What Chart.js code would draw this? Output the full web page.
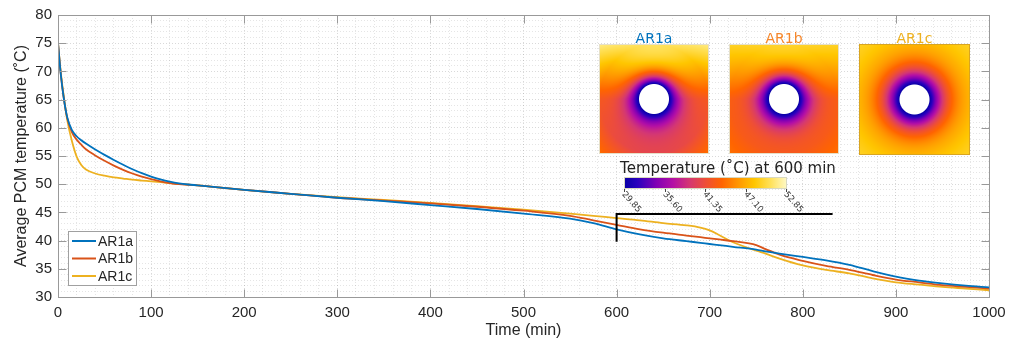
<!DOCTYPE html>
<html>
<head>
<meta charset="utf-8">
<script src="https://cdn.jsdelivr.net/npm/chart.js@4.4.0/dist/chart.umd.min.js"></script>
<style>
  html, body { margin: 0; padding: 0; background: #fff; }
  #wrap { width: 1018px; height: 343px; }
</style>
</head>
<body>
<div id="wrap"><canvas id="pcmChart" width="1018" height="343"></canvas></div>
<script>
// data (time in min, temperature in degC)
const timeMin = [0, 3, 6, 10, 15, 20, 25, 30, 40, 50, 60, 70, 80, 90, 100, 110, 120, 130, 140, 150,
  175, 200, 250, 300, 350, 400, 450, 500, 550, 575, 600, 625, 650, 675, 690, 700, 710, 725, 750, 760,
  775, 800, 825, 850, 875, 900, 925, 950, 975, 1000];
const ar1a = [75, 69.5, 65.5, 61.8, 59.6, 58.5, 57.8, 57.2, 56.15, 55.2, 54.3, 53.45, 52.65, 51.95, 51.35, 50.85, 50.45, 50.15, 49.95, 49.8,
  49.4, 49.0, 48.3, 47.6, 47.0, 46.3, 45.6, 44.8, 43.9, 43.1, 42.0, 41.1, 40.4, 39.9, 39.6, 39.4, 39.2, 38.9, 38.4, 38.1,
  37.7, 37.1, 36.5, 35.7, 34.6, 33.6, 32.9, 32.4, 32.0, 31.7];
const ar1b = [75, 69.5, 65.5, 61.7, 59.2, 57.9, 57.0, 56.2, 55.1, 54.15, 53.3, 52.55, 51.9, 51.35, 50.9, 50.5, 50.2, 50.0, 49.9, 49.8,
  49.4, 49.0, 48.3, 47.6, 47.1, 46.6, 46.0, 45.3, 44.4, 43.6, 42.8, 42.0, 41.4, 40.9, 40.6, 40.4, 40.2, 39.9, 39.2, 38.5,
  37.5, 36.4, 35.5, 34.8, 33.9, 33.1, 32.6, 32.1, 31.8, 31.5];
const ar1c = [75, 69.8, 65.8, 61.3, 57.6, 54.9, 53.4, 52.6, 51.9, 51.5, 51.2, 51.0, 50.8, 50.65, 50.5, 50.35, 50.2, 50.05, 49.92, 49.8,
  49.4, 49.0, 48.3, 47.7, 47.2, 46.7, 46.1, 45.5, 44.8, 44.4, 44.0, 43.6, 43.1, 42.7, 42.3, 41.8, 41.0, 39.7, 38.2, 37.7,
  36.8, 35.6, 34.8, 34.2, 33.3, 32.6, 32.2, 31.8, 31.5, 31.2];

const seriesNames = ['AR1a', 'AR1b', 'AR1c'];
const seriesColors = ['#0072BD', '#D95319', '#EDB120'];
const insetTitleColors = ['#0072BD', '#F5862A', '#EDB120'];

const xTickLabels = [0, 100, 200, 300, 400, 500, 600, 700, 800, 900, 1000];
const yTickLabels = [30, 35, 40, 45, 50, 55, 60, 65, 70, 75, 80];
const colorbarTicks = ['29.85', '35.60', '41.35', '47.10', '52.85'];

// bracket that links the 600 min snapshot to the insets
const markerTime = 600;
const markerEnd = 832;
const markerTop = 44.7;
const markerBottom = 39.8;

// colormap of the temperature fields (29.85 .. 52.85 degC)
const cmapStops = [
  [0.00, [8, 0, 165]],
  [0.08, [40, 0, 190]],
  [0.20, [130, 0, 180]],
  [0.30, [180, 15, 165]],
  [0.40, [212, 55, 115]],
  [0.50, [238, 78, 55]],
  [0.60, [255, 100, 0]],
  [0.70, [255, 150, 0]],
  [0.80, [255, 198, 0]],
  [0.90, [255, 225, 90]],
  [1.00, [255, 250, 200]]
];

function cmap(u) {
  u = Math.max(0, Math.min(1, u));
  for (let k = 1; k < cmapStops.length; k++) {
    if (u <= cmapStops[k][0]) {
      const a = cmapStops[k - 1], b = cmapStops[k];
      const f = (u - a[0]) / (b[0] - a[0]);
      return a[1].map((c, i) => Math.round(c + (b[1][i] - c) * f));
    }
  }
  return cmapStops[cmapStops.length - 1][1];
}

// inset snapshots: normalised far-field level above / at the sides / below the tube
const insets = [
  { x: 599, y: 44, size: 110, top: 0.92, side: 0.55, bottom: 0.47, corner: 0.13, lam: 12, edge: '#e6e0c8' },
  { x: 729, y: 44, size: 110, top: 0.87, side: 0.58, bottom: 0.56, corner: 0.06, lam: 13, edge: '#e6e0c8' },
  { x: 859, y: 44, size: 111, top: 0.82, side: 0.82, bottom: 0.82, corner: 0.03, lam: 18, edge: '#d9a520' }
];
const holeR = 15;

function drawField(ctx, box) {
  const n = box.size;
  const off = document.createElement('canvas');
  off.width = n; off.height = n;
  const octx = off.getContext('2d');
  const img = octx.createImageData(n, n);
  const c = (n - 1) / 2;
  for (let j = 0; j < n; j++) {
    for (let i = 0; i < n; i++) {
      const px = i - c, py = j - c;
      const r = Math.hypot(px, py);
      const v = r > 0 ? -py / r : 0;
      let far = v > 0 ? box.side + (box.top - box.side) * v
                      : box.side + (box.side - box.bottom) * v;
      far += box.corner * Math.max(0, r - c) / (c * 0.42);
      const d = Math.max(0, r - holeR);
      const u = far * (1 - Math.exp(-Math.pow(d / box.lam, 1.2)));
      let rgb = cmap(u);
      const w = Math.max(0, Math.min(1, holeR + 0.5 - r)); // white hole, soft edge
      rgb = rgb.map(ch => Math.round(ch * (1 - w) + 255 * w));
      const p = (j * n + i) * 4;
      img.data[p] = rgb[0]; img.data[p + 1] = rgb[1]; img.data[p + 2] = rgb[2]; img.data[p + 3] = 255;
    }
  }
  octx.putImageData(img, 0, 0);
  ctx.drawImage(off, box.x, box.y);
  ctx.strokeStyle = box.edge;
  ctx.lineWidth = 1;
  ctx.strokeRect(box.x + 0.5, box.y + 0.5, n - 1, n - 1);
}

const axesBox = {
  id: 'axesBox',
  afterDatasetsDraw(chart) {
    const { ctx, chartArea: a, scales } = chart;
    ctx.save();
    ctx.strokeStyle = '#999999';
    ctx.lineWidth = 1;
    const L = Math.round(a.left) + 0.5, R = Math.round(a.right) + 0.5;
    const T = Math.round(a.top) + 0.5, B = Math.round(a.bottom) + 0.5;
    ctx.strokeRect(L, T, R - L, B - T);
    ctx.beginPath();
    xTickLabels.forEach(v => {
      const x = Math.round(scales.x.getPixelForValue(v)) + 0.5;
      ctx.moveTo(x, B); ctx.lineTo(x, B - 8);
      ctx.moveTo(x, T); ctx.lineTo(x, T + 8);
    });
    yTickLabels.forEach(v => {
      const y = Math.round(scales.y.getPixelForValue(v)) + 0.5;
      ctx.moveTo(L, y); ctx.lineTo(L + 8, y);
      ctx.moveTo(R, y); ctx.lineTo(R - 8, y);
    });
    ctx.stroke();
    ctx.restore();
  },
  afterDraw(chart) {
    const { ctx, chartArea: a, scales } = chart;
    ctx.save();

    // bracket at 600 min
    const mx = scales.x.getPixelForValue(markerTime);
    const mx2 = scales.x.getPixelForValue(markerEnd);
    const my = scales.y.getPixelForValue(markerTop);
    const my2 = scales.y.getPixelForValue(markerBottom);
    ctx.strokeStyle = '#000';
    ctx.lineWidth = 2;
    ctx.beginPath();
    ctx.moveTo(mx, my2); ctx.lineTo(mx, my); ctx.lineTo(mx2, my);
    ctx.stroke();

    // snapshots
    insets.forEach((box, k) => {
      drawField(ctx, box);
      ctx.fillStyle = insetTitleColors[k];
      ctx.font = '14px "DejaVu Sans"';
      ctx.textAlign = 'center';
      ctx.textBaseline = 'alphabetic';
      ctx.fillText(seriesNames[k], box.x + box.size / 2, 43);
    });

    // colorbar
    const cbX = 624, cbY = 177, cbW = 163, cbH = 12;
    const grad = ctx.createLinearGradient(cbX, 0, cbX + cbW, 0);
    cmapStops.forEach(s => grad.addColorStop(s[0], 'rgb(' + s[1].join(',') + ')'));
    ctx.fillStyle = grad;
    ctx.fillRect(cbX, cbY, cbW, cbH);
    ctx.strokeStyle = '#d8d8c0';
    ctx.lineWidth = 1;
    ctx.strokeRect(cbX + 0.5, cbY + 0.5, cbW - 1, cbH - 1);
    ctx.fillStyle = '#222';
    ctx.font = '15px "DejaVu Sans"';
    ctx.textAlign = 'center';
    ctx.fillText('Temperature (\u02DAC) at 600 min', 728, 173);
    ctx.font = '8.5px "DejaVu Sans"';
    ctx.textAlign = 'left';
    ctx.textBaseline = 'middle';
    ctx.strokeStyle = '#444';
    colorbarTicks.forEach((lab, k) => {
      const tx = Math.round(cbX + k * (cbW - 1) / (colorbarTicks.length - 1)) + 0.5;
      ctx.beginPath();
      ctx.moveTo(tx, cbY + cbH); ctx.lineTo(tx, cbY + cbH + 3);
      ctx.stroke();
      ctx.save();
      ctx.translate(tx - 1, cbY + cbH + 4);
      ctx.rotate(0.85);
      ctx.fillStyle = '#333';
      ctx.fillText(lab, 0, 0);
      ctx.restore();
    });

    // legend
    const lx = a.left + 10, ly = a.bottom - 66, lw = 68, lh = 54;
    ctx.fillStyle = '#fff';
    ctx.fillRect(lx, ly, lw, lh);
    ctx.strokeStyle = '#a0a0a0';
    ctx.lineWidth = 1;
    ctx.strokeRect(lx + 0.5, ly + 0.5, lw, lh);
    ctx.font = '14px "Liberation Sans"';
    ctx.textBaseline = 'middle';
    ctx.textAlign = 'left';
    chart.data.datasets.forEach((ds, k) => {
      const yy = ly + 10 + k * 17.5;
      ctx.strokeStyle = ds.borderColor;
      ctx.lineWidth = 2;
      ctx.beginPath();
      ctx.moveTo(lx + 4, yy); ctx.lineTo(lx + 28, yy);
      ctx.stroke();
      ctx.fillStyle = '#262626';
      ctx.fillText(ds.label, lx + 30, yy + 1);
    });
    ctx.restore();
  }
};

const seriesValues = [ar1a, ar1b, ar1c];
const tickFont = { family: '"Liberation Sans", Arial, sans-serif', size: 15 };
const titleFont = { family: '"Liberation Sans", Arial, sans-serif', size: 16 };

new Chart(document.getElementById('pcmChart'), {
  type: 'line',
  data: {
    datasets: seriesValues.map((vals, k) => ({
      label: seriesNames[k],
      data: timeMin.map((t, i) => ({ x: t, y: vals[i] })),
      borderColor: seriesColors[k],
      backgroundColor: seriesColors[k],
      borderWidth: 1.8,
      pointRadius: 0,
      cubicInterpolationMode: 'monotone',
      fill: false
    }))
  },
  options: {
    responsive: false,
    animation: false,
    layout: { padding: { left: 0, right: 29, top: 15, bottom: 0 } },
    plugins: {
      legend: { display: false },
      tooltip: { enabled: false }
    },
    scales: {
      x: {
        type: 'linear',
        min: 0,
        max: 1000,
        ticks: {
          stepSize: 20,
          autoSkip: false,
          maxRotation: 0,
          padding: 7,
          color: '#262626',
          font: tickFont,
          callback: v => xTickLabels.includes(v) ? String(v) : ''
        },
        grid: {
          drawTicks: false,
          color: c => (c.tick && c.tick.value % 100 === 0) ? 'rgba(0,0,0,0.15)' : 'rgba(0,0,0,0.10)'
        },
        border: { display: false, dash: [1, 2] },
        title: { display: true, text: 'Time (min)', color: '#262626', font: titleFont, padding: { top: 0, bottom: 3 } },
        afterFit: s => { s.height = 46; }
      },
      y: {
        min: 30,
        max: 80,
        ticks: {
          stepSize: 1,
          autoSkip: false,
          padding: 6,
          color: '#262626',
          font: tickFont,
          callback: v => yTickLabels.includes(v) ? String(v) : ''
        },
        grid: {
          drawTicks: false,
          color: c => (c.tick && c.tick.value % 5 === 0) ? 'rgba(0,0,0,0.15)' : 'rgba(0,0,0,0.10)'
        },
        border: { display: false, dash: [1, 2] },
        title: { display: true, text: 'Average PCM temperature (\u02DAC)', color: '#262626', font: titleFont, padding: { top: 12, bottom: 0 } },
        afterFit: s => { s.width = 58; }
      }
    }
  },
  plugins: [axesBox]
});
</script>
</body>
</html>
